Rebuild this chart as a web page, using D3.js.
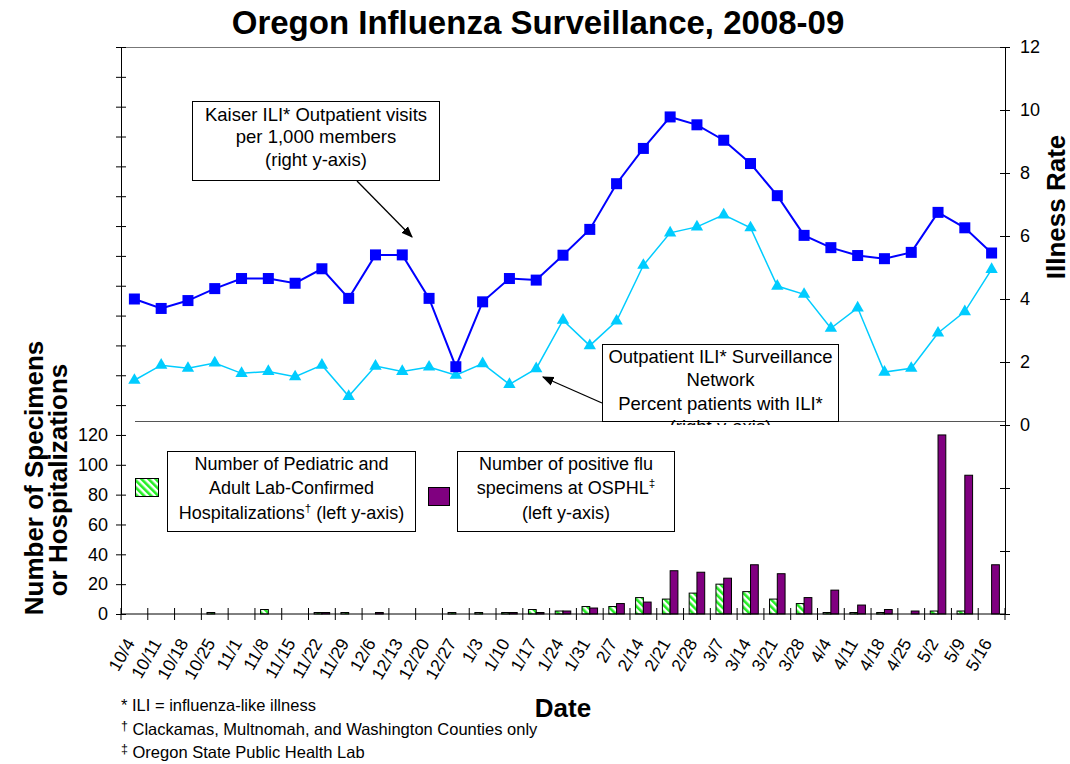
<!DOCTYPE html>
<html>
<head>
<meta charset="utf-8">
<script src="https://cdn.jsdelivr.net/npm/d3@7"></script>
<style>
  body { margin: 0; background: #fff; }
  svg { font-family: "Liberation Sans", Arial, sans-serif; }
</style>
</head>
<body>
<svg width="1070" height="764"></svg>
<script>
    var weeks = ["10/4", "10/11", "10/18", "10/25", "11/1", "11/8", "11/15", "11/22", "11/29",
        "12/6", "12/13", "12/20", "12/27", "1/3", "1/10", "1/17", "1/24", "1/31", "2/7", "2/14",
        "2/21", "2/28", "3/7", "3/14", "3/21", "3/28", "4/4", "4/11", "4/18", "4/25", "5/2", "5/9", "5/16"];

    // right y-axis series
    var kaiserRate = [4.0, 3.7, 3.95, 4.33, 4.65, 4.65, 4.5, 4.96, 4.02, 5.4, 5.4, 4.02, 1.85,
        3.91, 4.65, 4.6, 5.39, 6.21, 7.66, 8.78, 9.78, 9.53, 9.04, 8.3, 7.28, 6.02, 5.63, 5.38,
        5.28, 5.48, 6.75, 6.26, 5.46];
    var iliPercent = [1.42, 1.9, 1.8, 1.97, 1.64, 1.7, 1.53, 1.9, 0.91, 1.87, 1.7, 1.84, 1.58,
        1.95, 1.29, 1.79, 3.33, 2.52, 3.3, 5.07, 6.1, 6.29, 6.67, 6.26, 4.41, 4.15, 3.07, 3.72,
        1.68, 1.8, 2.92, 3.6, 4.94];

    // left y-axis series
    var hospitalizations = [0, 0, 0, 1, 0, 3, 0, 1, 1, 0, 0, 0, 1, 1, 1, 3, 2, 5, 5, 11, 10, 14,
        20, 15, 10, 7, 1, 1, 1, 0, 2, 2, 0];
    var positiveSpecimens = [0, 0, 0, 0, 0, 0, 0, 1, 0, 1, 0, 0, 0, 0, 1, 1, 2, 4, 7, 8, 29, 28,
        24, 33, 27, 11, 16, 6, 3, 2, 120, 93, 33];

    var rateTicks = [-6, -4, -2, 0, 2, 4, 6, 8, 10, 12];
    var countTicks = [0, 20, 40, 60, 80, 100, 120, 140, 160, 180, 200, 220, 240, 260, 280, 300,
        320, 340, 360, 380];

    var svg = d3.select("svg");
    var plotLeft = 121, plotRight = 1005, plotTop = 47, plotBottom = 614;

    var x = d3.scaleBand().domain(weeks).range([plotLeft, plotRight]);
    var yRate = d3.scaleLinear().domain([-6, 12]).range([plotBottom, plotTop]);
    var yCount = d3.scaleLinear().domain([0, 380]).range([plotBottom, plotTop]);

    function cx(d) {
        return x(d) + x.bandwidth() / 2;
    }

    var defs = svg.append("defs");
    var hatch = defs.append("pattern")
        .attr("id", "hatch")
        .attr("patternUnits", "userSpaceOnUse")
        .attr("width", 5).attr("height", 5)
        .attr("patternTransform", "rotate(-45)");
    hatch.append("rect").attr("width", 5).attr("height", 5).attr("fill", "#fff");
    hatch.append("rect").attr("width", 2.6).attr("height", 5).attr("fill", "#22ee22");

    defs.append("marker")
        .attr("id", "arrow")
        .attr("viewBox", "0 0 10 10")
        .attr("refX", 9).attr("refY", 5)
        .attr("markerWidth", 9).attr("markerHeight", 9)
        .attr("orient", "auto")
        .append("path").attr("d", "M0,1 L10,5 L0,9 Z").attr("fill", "#000");

    defs.append("clipPath").attr("id", "upper")
        .append("rect").attr("x", 0).attr("y", 0).attr("width", 1070).attr("height", yRate(0));

    // title
    svg.append("text")
        .attr("x", 538).attr("y", 34)
        .attr("text-anchor", "middle")
        .attr("font-size", 33).attr("font-weight", "bold")
        .text("Oregon Influenza Surveillance, 2008-09");

    // frame lines
    svg.append("line")
        .attr("x1", plotLeft).attr("x2", plotRight).attr("y1", plotTop + 0.5).attr("y2", plotTop + 0.5)
        .attr("stroke", "#777").attr("stroke-width", 1);
    svg.append("line")
        .attr("x1", 135).attr("x2", plotRight).attr("y1", 421.5).attr("y2", 421.5)
        .attr("stroke", "#555").attr("stroke-width", 1);

    // bars
    var barW = x.bandwidth() * 0.29;
    svg.append("g").selectAll("rect")
        .data(weeks)
        .enter().append("rect")
        .attr("x", function(d) { return cx(d) - barW; })
        .attr("y", function(d, i) { return yCount(hospitalizations[i]); })
        .attr("width", barW)
        .attr("height", function(d, i) { return plotBottom - yCount(hospitalizations[i]); })
        .attr("fill", "url(#hatch)")
        .attr("stroke", "#000").attr("stroke-width", 1)
        .style("display", function(d, i) { return hospitalizations[i] ? null : "none"; });
    svg.append("g").selectAll("rect")
        .data(weeks)
        .enter().append("rect")
        .attr("x", function(d) { return cx(d); })
        .attr("y", function(d, i) { return yCount(positiveSpecimens[i]); })
        .attr("width", barW)
        .attr("height", function(d, i) { return plotBottom - yCount(positiveSpecimens[i]); })
        .attr("fill", "#800080")
        .attr("stroke", "#000").attr("stroke-width", 1)
        .style("display", function(d, i) { return positiveSpecimens[i] ? null : "none"; });

    // axes
    function styleAxis(g) {
        g.attr("font-family", null).attr("font-size", null);
        g.selectAll("text").attr("font-size", 18).attr("fill", "#000");
        g.selectAll("line, path").attr("stroke", "#000");
    }

    svg.append("g")
        .attr("transform", "translate(" + plotLeft + ",0)")
        .call(d3.axisLeft(yCount).tickValues(countTicks).tickSize(5).tickSizeOuter(0).tickPadding(8)
            .tickFormat(function(d) { return d <= 120 ? d : ""; }))
        .call(styleAxis);
    svg.append("g")
        .attr("transform", "translate(" + plotLeft + ",0)")
        .call(d3.axisRight(yCount).tickValues(countTicks).tickSize(5).tickFormat(""))
        .call(styleAxis)
        .select(".domain").remove();

    svg.append("g")
        .attr("transform", "translate(" + plotRight + ",0)")
        .call(d3.axisRight(yRate).tickValues(rateTicks).tickSize(5).tickSizeOuter(0).tickPadding(10)
            .tickFormat(function(d) { return d >= 0 ? d : ""; }))
        .call(styleAxis);
    svg.append("g")
        .attr("transform", "translate(" + plotRight + ",0)")
        .call(d3.axisLeft(yRate).tickValues(rateTicks).tickSize(5).tickFormat(""))
        .call(styleAxis)
        .select(".domain").remove();

    // category axis, ticks between the weeks
    var xAxis = svg.append("g");
    xAxis.append("line")
        .attr("x1", plotLeft).attr("x2", plotRight).attr("y1", plotBottom).attr("y2", plotBottom)
        .attr("stroke", "#000");
    xAxis.selectAll("line.tick")
        .data(weeks.concat(["end"]))
        .enter().append("line")
        .attr("class", "tick")
        .attr("x1", function(d) { return d == "end" ? plotRight : x(d); })
        .attr("x2", function(d) { return d == "end" ? plotRight : x(d); })
        .attr("y1", plotBottom - 6).attr("y2", plotBottom + 6)
        .attr("stroke", "#000");
    xAxis.selectAll("text")
        .data(weeks)
        .enter().append("text")
        .attr("transform", function(d) { return "translate(" + (cx(d) + 1) + "," + 643 + ") rotate(-60)"; })
        .attr("text-anchor", "end")
        .attr("font-size", 17.5)
        .text(function(d) { return d; });

    // lines
    var line = d3.line()
        .x(function(d, i) { return cx(weeks[i]); })
        .y(function(d) { return yRate(d); });

    svg.append("path")
        .attr("d", line(iliPercent))
        .attr("fill", "none").attr("stroke", "#00ccff").attr("stroke-width", 1.5);
    svg.append("g").selectAll("path")
        .data(iliPercent)
        .enter().append("path")
        .attr("transform", function(d, i) { return "translate(" + cx(weeks[i]) + "," + yRate(d) + ")"; })
        .attr("d", d3.symbol().type(d3.symbolTriangle).size(66))
        .attr("fill", "#00ccff");

    svg.append("path")
        .attr("d", line(kaiserRate))
        .attr("fill", "none").attr("stroke", "#0000ff").attr("stroke-width", 2);
    svg.append("g").selectAll("rect")
        .data(kaiserRate)
        .enter().append("rect")
        .attr("x", function(d, i) { return cx(weeks[i]) - 5.5; })
        .attr("y", function(d) { return yRate(d) - 5.5; })
        .attr("width", 11).attr("height", 11)
        .attr("fill", "#0000ff");

    // annotation boxes
    function textBox(g, bx, by, bw, bh, lines, size, first, step) {
        g.append("rect")
            .attr("x", bx).attr("y", by).attr("width", bw).attr("height", bh)
            .attr("fill", "#fff").attr("stroke", "#000").attr("stroke-width", 1);
        var t = g.append("text")
            .attr("text-anchor", "middle")
            .attr("font-size", size);
        lines.forEach(function(l, i) {
            var ts = t.append("tspan").attr("x", bx + bw / 2).attr("y", first + i * step);
            ts.append("tspan").text(l[0]);
            if (l[1]) {
                ts.append("tspan").attr("font-size", size * 0.65).attr("dy", -7).text(l[1]);
                if (l[2]) ts.append("tspan").attr("dy", 7).text(l[2]);
            }
        });
    }

    svg.append("line")
        .attr("x1", 357).attr("y1", 181).attr("x2", 412).attr("y2", 237)
        .attr("stroke", "#000").attr("stroke-width", 1.3).attr("marker-end", "url(#arrow)");
    textBox(svg.append("g"), 192.5, 101.5, 247, 79,
        [["Kaiser ILI* Outpatient visits"], ["per 1,000 members"], ["(right y-axis)"]], 18.5, 120.5, 22.7);

    svg.append("line")
        .attr("x1", 602).attr("y1", 403).attr("x2", 543).attr("y2", 377)
        .attr("stroke", "#000").attr("stroke-width", 1.3).attr("marker-end", "url(#arrow)");
    // the last line is cut off by the plot edge, as in the source chart
    textBox(svg.append("g").attr("clip-path", "url(#upper)"), 602.5, 344.5, 236, 77,
        [["Outpatient ILI* Surveillance"], ["Network"], ["Percent patients with ILI*"], ["(right y-axis)"]],
        18.5, 363, 23.3);

    // legend
    svg.append("rect")
        .attr("x", 135.5).attr("y", 478.5).attr("width", 23).attr("height", 18)
        .attr("fill", "url(#hatch)").attr("stroke", "#000");
    textBox(svg.append("g"), 167.5, 451.5, 248, 80,
        [["Number of Pediatric and"], ["Adult Lab-Confirmed"], ["Hospitalizations", "†", " (left y-axis)"]],
        18, 469.5, 24.5);
    svg.append("rect")
        .attr("x", 428.5).attr("y", 487.5).attr("width", 21).attr("height", 18)
        .attr("fill", "#800080").attr("stroke", "#000");
    textBox(svg.append("g"), 457.5, 451.5, 217, 80,
        [["Number of positive flu"], ["specimens at OSPHL", "‡"], ["(left y-axis)"]],
        18, 469.5, 24.5);

    // axis titles
    svg.append("text")
        .attr("transform", "translate(43,478) rotate(-90)")
        .attr("text-anchor", "middle")
        .attr("font-size", 26).attr("font-weight", "bold")
        .text("Number of Specimens");
    svg.append("text")
        .attr("transform", "translate(67,480) rotate(-90)")
        .attr("text-anchor", "middle")
        .attr("font-size", 26).attr("font-weight", "bold")
        .text("or Hospitalizations");
    svg.append("text")
        .attr("transform", "translate(1065,207) rotate(-90)")
        .attr("text-anchor", "middle")
        .attr("font-size", 26).attr("font-weight", "bold")
        .text("Illness Rate");
    svg.append("text")
        .attr("x", 563).attr("y", 717)
        .attr("text-anchor", "middle")
        .attr("font-size", 26).attr("font-weight", "bold")
        .text("Date");

    // footnotes
    var notes = svg.append("g").attr("font-size", 16.5);
    notes.append("text").attr("x", 121).attr("y", 711).text("* ILI = influenza-like illness");
    var n2 = notes.append("text").attr("x", 121).attr("y", 735);
    n2.append("tspan").attr("font-size", 12.5).attr("dy", -5).text("†");
    n2.append("tspan").attr("dy", 5).text(" Clackamas, Multnomah, and Washington Counties only");
    var n3 = notes.append("text").attr("x", 121).attr("y", 758);
    n3.append("tspan").attr("font-size", 12.5).attr("dy", -5).text("‡");
    n3.append("tspan").attr("dy", 5).text(" Oregon State Public Health Lab");
</script>
</body>
</html>
